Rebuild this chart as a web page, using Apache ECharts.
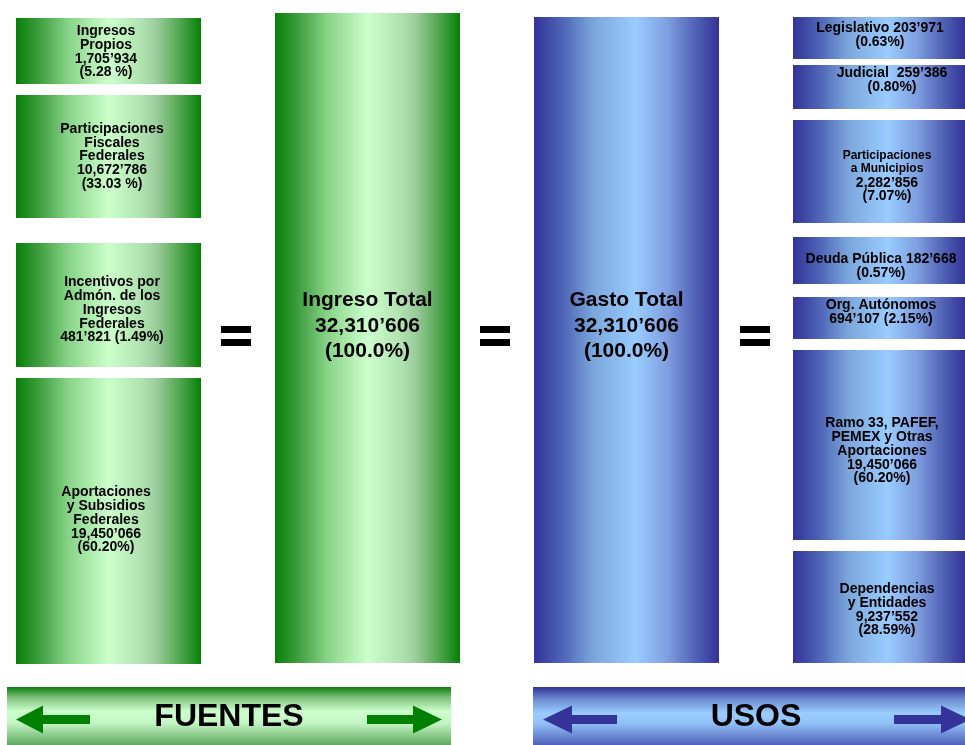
<!DOCTYPE html>
<html>
<head>
<meta charset="utf-8">
<script src="https://cdn.jsdelivr.net/npm/echarts@6/dist/echarts.min.js"></script>
<style>
html,body{margin:0;padding:0;background:#fff;}
#chart{width:965px;height:745px;}
</style>
</head>
<body>
<div id="chart"></div>
<script>
// ---------- DATA ----------
var sourceNames = ['Ingresos\nPropios', 'Participaciones\nFiscales\nFederales', 'Incentivos por\nAdmón. de los\nIngresos\nFederales', 'Aportaciones\ny Subsidios\nFederales'];
var sourceValues = [1705934, 10672786, 481821, 19450066];
var sourcePercents = ['5.28', '33.03', '1.49', '60.20'];
var sourceTemplates = ['{n}\n{v}\n({p} %)', '{n}\n{v}\n({p} %)', '{n}\n{v} ({p}%)', '{n}\n{v}\n({p}%)'];

var useNames = ['Legislativo', 'Judicial', 'Participaciones\na Municipios', 'Deuda Pública', 'Org. Autónomos', 'Ramo 33, PAFEF,\nPEMEX y Otras\nAportaciones', 'Dependencias\ny Entidades'];
var useValues = [203971, 259386, 2282856, 182668, 694107, 19450066, 9237552];
var usePercents = ['0.63', '0.80', '7.07', '0.57', '2.15', '60.20', '28.59'];
var useTemplates = ['{n} {v}\n({p}%)', '{n}  {v}\n({p}%)', '{n}\n{v}\n({p}%)', '{n} {v}\n({p}%)', '{n}\n{v} ({p}%)', '{n}\n{v}\n({p}%)', '{n}\n{v}\n({p}%)'];

var totalNames = ['Ingreso Total', 'Gasto Total'];
var totalValues = [32310606, 32310606];
var totalPercents = ['100.0', '100.0'];

var footerLabels = ['FUENTES', 'USOS'];

// ---------- LAYOUT (positions / styles only) ----------
var sourceBoxes = [[16, 18, 185, 66], [16, 95, 185, 123], [16, 243, 185, 124], [16, 378, 185, 286]];
var sourceTextPos = [[106, 52], [112, 156.5], [112, 310], [106, 520]];
var useBoxes = [[793, 17, 172, 42], [793, 65, 172, 44], [793, 120, 172, 103], [793, 237, 172, 47], [793, 297, 172, 42], [793, 350, 172, 190], [793, 551, 172, 112]];
var useTextPos = [[880, 35.5], [892, 80], [887, 176], [881, 266.5], [881, 312], [882, 451], [887, 610]];
var useSmallName = [false, false, true, false, false, false, false];
var totalBoxes = [[275, 13, 185, 650], [534, 17, 185, 646]];

function fmt(v) {
  var s = String(v);
  var th = s.slice(-3);
  var rest = s.slice(0, -3);
  if (rest.length > 3) {
    return rest.slice(0, rest.length - 3) + ',' + rest.slice(-3) + '\u2019' + th;
  }
  return rest + '\u2019' + th;
}

var GREEN_H = {type: 'linear', x: 0, y: 0, x2: 1, y2: 0, colorStops: [
  {offset: 0, color: '#068006'}, {offset: 0.12, color: '#3c9c3c'}, {offset: 0.28, color: '#86d286'},
  {offset: 0.5, color: '#ccffcc'}, {offset: 0.68, color: '#b0e2b0'}, {offset: 0.76, color: '#9ccc9c'},
  {offset: 0.9, color: '#47a247'}, {offset: 1, color: '#068006'}]};
var BLUE_H = {type: 'linear', x: 0, y: 0, x2: 1, y2: 0, colorStops: [
  {offset: 0, color: '#333399'}, {offset: 0.15, color: '#4d62b5'}, {offset: 0.32, color: '#7ba6dc'},
  {offset: 0.55, color: '#99ccff'}, {offset: 0.72, color: '#7f9fe0'}, {offset: 0.88, color: '#4f5fb3'},
  {offset: 1, color: '#333399'}]};
var GREEN_V = {type: 'linear', x: 0, y: 0, x2: 0, y2: 1, colorStops: [
  {offset: 0, color: '#0c7c0c'}, {offset: 0.18, color: '#7cc07c'}, {offset: 0.42, color: '#ccffcc'},
  {offset: 0.62, color: '#c4f6c4'}, {offset: 1, color: '#5fa85f'}]};
var BLUE_V = {type: 'linear', x: 0, y: 0, x2: 0, y2: 1, colorStops: [
  {offset: 0, color: '#333399'}, {offset: 0.22, color: '#6f8fd2'}, {offset: 0.45, color: '#99ccff'},
  {offset: 0.62, color: '#92c2f8'}, {offset: 1, color: '#5060b8'}]};

var FONT = '"Liberation Sans", Arial, Helvetica, sans-serif';

function buildText(tpl, name, value, pct, small) {
  var nm = small ? name.split('\n').map(function (l) { return '{s|' + l + '}'; }).join('\n') : name;
  var t = tpl.replace('{n}', nm).replace('{v}', fmt(value)).replace('{p}', pct);
  return t.split('\n').map(function (l) { return l.indexOf('{s|') === 0 ? l : '{a|' + l + '}'; }).join('\n');
}

var graphics = [];
function addBox(b, fill) {
  graphics.push({type: 'rect', shape: {x: b[0], y: b[1], width: b[2], height: b[3]}, style: {fill: fill}, silent: true});
}
function addText(p, text, size, lh) {
  graphics.push({type: 'text', x: p[0], y: p[1], silent: true, z: 10, style: {
    text: text, align: 'center', verticalAlign: 'middle', fill: '#000',
    rich: {
      a: {fontFamily: FONT, fontWeight: 'bold', fontSize: size, lineHeight: lh, fill: '#000', align: 'center'},
      s: {fontFamily: FONT, fontWeight: 'bold', fontSize: 12, lineHeight: lh, fill: '#000', align: 'center'}
    }
  }});
}

sourceNames.forEach(function (n, i) {
  addBox(sourceBoxes[i], GREEN_H);
  addText(sourceTextPos[i], buildText(sourceTemplates[i], n, sourceValues[i], sourcePercents[i], false), 14, 13.75);
});
useNames.forEach(function (n, i) {
  addBox(useBoxes[i], BLUE_H);
  addText(useTextPos[i], buildText(useTemplates[i], n, useValues[i], usePercents[i], useSmallName[i]), 14, 13.75);
});
totalNames.forEach(function (n, i) {
  addBox(totalBoxes[i], i === 0 ? GREEN_H : BLUE_H);
  var b = totalBoxes[i];
  addText([b[0] + b[2] / 2, 326], buildText('{n}\n{v}\n({p}%)', n, totalValues[i], totalPercents[i], false), 21, 25.5);
});

// equal signs
[221, 480, 740].forEach(function (x) {
  graphics.push({type: 'rect', shape: {x: x, y: 326, width: 30, height: 7}, style: {fill: '#000'}, silent: true});
  graphics.push({type: 'rect', shape: {x: x, y: 339, width: 30, height: 7}, style: {fill: '#000'}, silent: true});
});

// footer bars
var footers = [
  {box: [7, 687, 444, 58], fill: GREEN_V, arrow: '#008000', lt: 16, lb: 43, le: 90, rs: 367, rb: 413, rt: 442, tx: 229},
  {box: [533, 687, 432, 58], fill: BLUE_V, arrow: '#333399', lt: 543, lb: 572, le: 617, rs: 894, rb: 941, rt: 970, tx: 756}
];
footers.forEach(function (f, i) {
  addBox(f.box, f.fill);
  var cy = 719.5;
  graphics.push({type: 'polygon', silent: true, z: 5, shape: {points: [
    [f.lt, cy], [f.lb, cy - 14], [f.lb, cy - 4.5], [f.le, cy - 4.5], [f.le, cy + 4.5], [f.lb, cy + 4.5], [f.lb, cy + 14]
  ]}, style: {fill: f.arrow}});
  graphics.push({type: 'polygon', silent: true, z: 5, shape: {points: [
    [f.rt, cy], [f.rb, cy - 14], [f.rb, cy - 4.5], [f.rs, cy - 4.5], [f.rs, cy + 4.5], [f.rb, cy + 4.5], [f.rb, cy + 14]
  ]}, style: {fill: f.arrow}});
  graphics.push({type: 'text', x: f.tx, y: cy - 2, silent: true, z: 10, style: {
    text: footerLabels[i], align: 'center', verticalAlign: 'middle', fill: '#000',
    fontFamily: FONT, fontWeight: 'bold', fontSize: 32
  }});
});

var chart = echarts.init(document.getElementById('chart'), null, {renderer: 'canvas'});
chart.setOption({
  animation: false,
  backgroundColor: '#fff',
  graphic: {elements: graphics}
});
</script>
</body>
</html>
